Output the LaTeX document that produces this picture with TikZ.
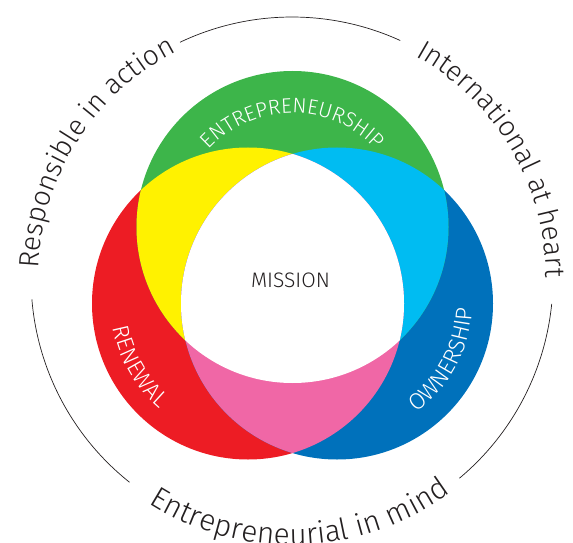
\documentclass[tikz,border=0pt]{standalone}
\usepackage{fontspec}
\IfFontExistsTF{Fira Sans Light}{\setmainfont{Fira Sans Light}}{\setmainfont{Fira Sans}}
\usetikzlibrary{decorations.text}
\definecolor{cgreen}{HTML}{3DB54A}
\definecolor{cred}{HTML}{ED1C24}
\definecolor{cblue}{HTML}{0071BB}
\definecolor{cyellow}{HTML}{FFF200}
\definecolor{ccyan}{HTML}{00BCF2}
\definecolor{cpink}{HTML}{F067A6}
\definecolor{ink}{HTML}{231F20}
\newcommand\myouterfont{\fontsize{28}{28}\selectfont}
\newcommand\mybottomfont{\fontsize{30}{30}\selectfont}
\newcommand\myinnerfont{\fontsize{21}{21}\selectfont}
\newcommand\myspacedfont{\fontsize{23}{23}\selectfont\addfontfeatures{LetterSpace=7}}
\begin{document}
\begin{tikzpicture}[x=1pt,y=1pt,
  ringline/.style={draw=ink, line width=0.7pt},
  outertext/.style={decorate, decoration={text along path, text align=center, text color=ink, text={|\myouterfont|#1}}},
  bottomtext/.style={decorate, decoration={text along path, text align=center, text color=ink, text={|\mybottomfont|#1}}},
  innertext/.style={decorate, decoration={text along path, text align=center, text color=white, text={|\myinnerfont|#1}}},
  spacedtext/.style={decorate, decoration={text along path, text align=center, text color=white, text={|\myspacedfont|#1}}}]
\useasboundingbox (0,0) rectangle (573,542);
\coordinate (C) at (292,264);
\coordinate (G) at (292.5,315);
\coordinate (R) at (248,238.5);
\coordinate (B) at (337,238.5);
% circles
\fill[cred] (R) circle[radius=156pt];
\fill[cblue] (B) circle[radius=156pt];
\fill[cgreen] (G) circle[radius=156pt];
\begin{scope}
  \clip (G) circle[radius=156pt];
  \fill[cyellow] (R) circle[radius=156pt];
  \fill[ccyan] (B) circle[radius=156pt];
\end{scope}
\begin{scope}
  \clip (R) circle[radius=156pt];
  \fill[cpink] (B) circle[radius=156pt];
  \clip (B) circle[radius=156pt];
  \fill[white] (G) circle[radius=156pt];
\end{scope}
\node[text=ink, font=\fontsize{21}{21}\selectfont] (mission) at (290.5,262) {MISSION};
% inner labels
\path[innertext=ENTREPRENEURSHIP] (G) ++(165:114pt) arc[start angle=165, end angle=15, radius=114pt];
\path[spacedtext=RENEWAL] (R) ++(165:137pt) arc[start angle=165, end angle=255, radius=137pt];
\path[spacedtext=OWNERSHIP] (B) ++(-75:135pt) arc[start angle=-75, end angle=19, radius=135pt];
% ring
\draw[ringline] (C) ++(65.5:261pt) arc[start angle=65.5, end angle=115.4, radius=261pt];
\draw[ringline] (C) ++(184.7:261pt) arc[start angle=184.7, end angle=231.5, radius=261pt];
\draw[ringline] (C) ++(-50.1:261pt) arc[start angle=-50.1, end angle=-5.7, radius=261pt];
% outer texts
\path[outertext=Responsible in action] (C) ++(195:254pt) arc[start angle=195, end angle=100, radius=254pt];
\path[outertext=International at heart] (C) ++(80:254pt) arc[start angle=80, end angle=-19, radius=254pt];
\path[bottomtext=Entrepreneurial in mind] (C) ++(220:267pt) arc[start angle=220, end angle=324, radius=267pt];
\end{tikzpicture}
\end{document}
